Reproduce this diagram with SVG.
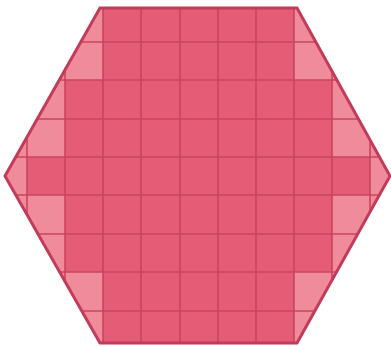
<svg xmlns="http://www.w3.org/2000/svg" width="391" height="346" viewBox="0 0 391 346">
<style>
.light{fill:#ef8b9b}
.main{fill:#e45c76}
.grid line{stroke:#c8445f;stroke-width:1.6}
.border{fill:none;stroke:#c23c5a;stroke-width:3;stroke-linejoin:miter}
</style>
<defs>
<clipPath id="hexclip"><polygon points="100,8 297,8 390,176 297,343 100,343 5,176"/></clipPath>
</defs>
<rect width="391" height="346" fill="#ffffff"/>
<g id="hexagon">
<polygon class="light" points="100,8 297,8 390,176 297,343 100,343 5,176"/>
<polygon class="main" points="103,8 294,8 294,80 332,80 332,157 370,157 370,195 332,195 332,272 294,272 294,343 103,343 103,272 65,272 65,195 27,195 27,157 65,157 65,80 103,80"/>
<g class="grid" clip-path="url(#hexclip)">
<line x1="27" y1="0" x2="27" y2="346"/>
<line x1="65" y1="0" x2="65" y2="346"/>
<line x1="103" y1="0" x2="103" y2="346"/>
<line x1="141" y1="0" x2="141" y2="346"/>
<line x1="180" y1="0" x2="180" y2="346"/>
<line x1="218" y1="0" x2="218" y2="346"/>
<line x1="256" y1="0" x2="256" y2="346"/>
<line x1="294" y1="0" x2="294" y2="346"/>
<line x1="332" y1="0" x2="332" y2="346"/>
<line x1="370" y1="0" x2="370" y2="346"/>
<line x1="0" y1="42" x2="391" y2="42"/>
<line x1="0" y1="80" x2="391" y2="80"/>
<line x1="0" y1="119" x2="391" y2="119"/>
<line x1="0" y1="157" x2="391" y2="157"/>
<line x1="0" y1="195" x2="391" y2="195"/>
<line x1="0" y1="234" x2="391" y2="234"/>
<line x1="0" y1="272" x2="391" y2="272"/>
<line x1="0" y1="311" x2="391" y2="311"/>
</g>
<polygon class="border" points="100,8 297,8 390,176 297,343 100,343 5,176"/>
</g>
</svg>
